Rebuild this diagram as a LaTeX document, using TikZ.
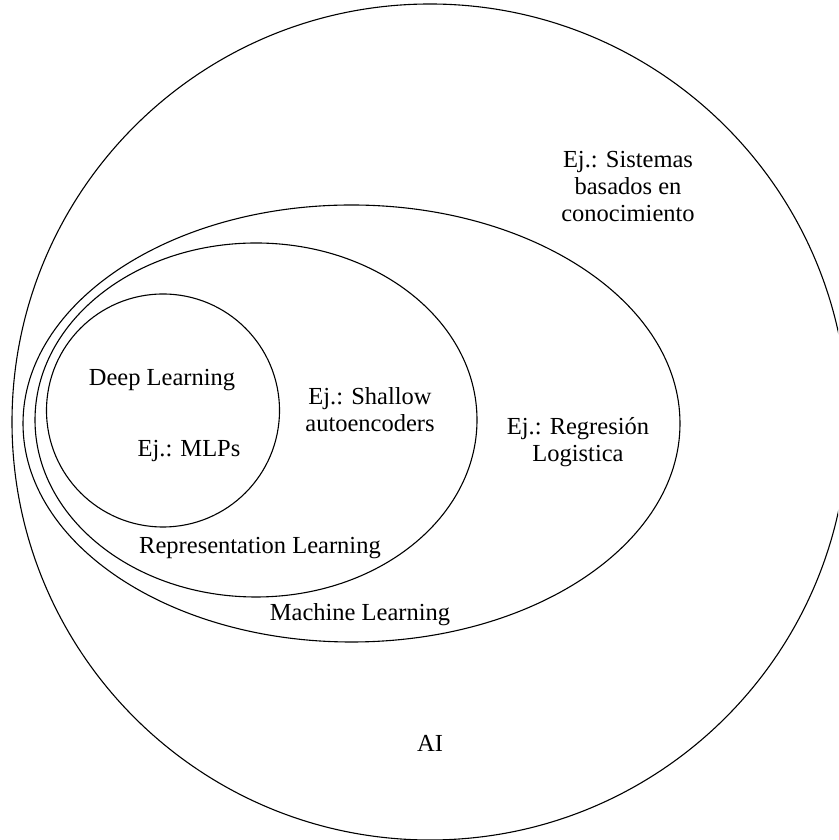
\documentclass[tikz,border=0pt]{standalone}
\usepackage{fontspec}
\setmainfont{Liberation Serif}
\begin{document}
\begin{tikzpicture}[x=1pt,y=1pt,
  set/.style={draw=black, line width=1.1pt, fill=none},
  lbl/.style={font=\fontsize{24.5}{27}\selectfont, align=center, inner sep=0pt}]
\useasboundingbox (0,0) rectangle (838,840);
\begin{scope}
  \clip (0,0) rectangle (838,840);
  % nested sets: AI > Machine Learning > Representation Learning > Deep Learning
  \draw[set] (430,418) circle [radius=418];
  \draw[set] (351.5,416.5) ellipse [x radius=328.5, y radius=218.5];
  \draw[set] (256,420) ellipse [x radius=221, y radius=177];
  \draw[set] (163,429.5) circle [radius=116.5];
\end{scope}
\node[lbl] (ks) at (628,653) {Ej.: Sistemas\\basados en\\conocimiento};
\node[lbl] (dl) at (162,460) {Deep Learning};
\node[lbl] (mlp) at (189,389) {Ej.: MLPs};
\node[lbl] (sh) at (370,430) {Ej.: Shallow\\autoencoders};
\node[lbl] (rg) at (578,398) {Ej.: Regresión\\Logistica};
\node[lbl] (rl) at (260,292) {Representation Learning};
\node[lbl] (ml) at (360,225) {Machine Learning};
\node[lbl] (ai) at (430,97) {AI};
\end{tikzpicture}
\end{document}
